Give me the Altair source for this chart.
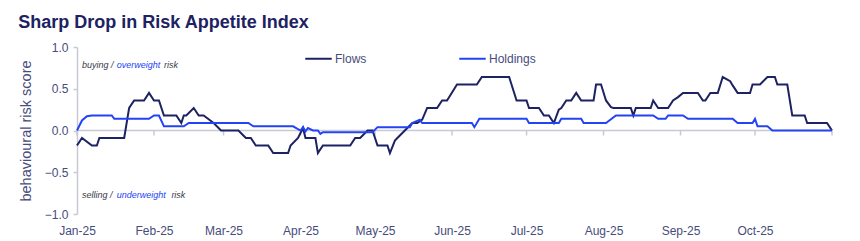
import altair as alt
import pandas as pd

chart_title = "Sharp Drop in Risk Appetite Index"
y_title = "behavioural risk score"
series_names = ["Flows", "Holdings"]
series_colors = ["#1d2262", "#2443f5"]

flows_dates = [
    "2025-01-01", "2025-01-03", "2025-01-07", "2025-01-09", "2025-01-10", "2025-01-20",
    "2025-01-22", "2025-01-24", "2025-01-28", "2025-01-30", "2025-02-01", "2025-02-03",
    "2025-02-05", "2025-02-10", "2025-02-12", "2025-02-13", "2025-02-14", "2025-02-17",
    "2025-02-19", "2025-02-21", "2025-02-25", "2025-02-28", "2025-03-07", "2025-03-10",
    "2025-03-12", "2025-03-14", "2025-03-19", "2025-03-21", "2025-03-27", "2025-03-28",
    "2025-03-31", "2025-04-02", "2025-04-03", "2025-04-05", "2025-04-07", "2025-04-08",
    "2025-04-10", "2025-04-21", "2025-04-23", "2025-04-25", "2025-04-28", "2025-04-30",
    "2025-05-02", "2025-05-06", "2025-05-07", "2025-05-09", "2025-05-10", "2025-05-13",
    "2025-05-16", "2025-05-18", "2025-05-20", "2025-05-22", "2025-05-26", "2025-05-28",
    "2025-05-30", "2025-06-03", "2025-06-11", "2025-06-13", "2025-06-24", "2025-06-27",
    "2025-07-01", "2025-07-02", "2025-07-06", "2025-07-08", "2025-07-10", "2025-07-12",
    "2025-07-14", "2025-07-15", "2025-07-17", "2025-07-19", "2025-07-21", "2025-07-23",
    "2025-07-28", "2025-07-29", "2025-07-31", "2025-08-02", "2025-08-04", "2025-08-05",
    "2025-08-12", "2025-08-13", "2025-08-14", "2025-08-20", "2025-08-21", "2025-08-23",
    "2025-08-27", "2025-08-29", "2025-08-31", "2025-09-02", "2025-09-08", "2025-09-10",
    "2025-09-11", "2025-09-13", "2025-09-16", "2025-09-18", "2025-09-21", "2025-09-22",
    "2025-09-24", "2025-09-29", "2025-09-30", "2025-10-03", "2025-10-06", "2025-10-09",
    "2025-10-10", "2025-10-14", "2025-10-16", "2025-10-21", "2025-10-22", "2025-10-30",
    "2025-11-01",
]
flows_values = [
    -0.18, -0.09, -0.18, -0.18, -0.09, -0.09,
    0.27, 0.36, 0.36, 0.45, 0.36, 0.36,
    0.18, 0.18, 0.09, 0.18, 0.18, 0.27,
    0.18, 0.18, 0.09, 0.0, 0.0, -0.09,
    -0.09, -0.18, -0.18, -0.27, -0.27, -0.18,
    -0.09, 0.03, -0.09, -0.09, -0.09, -0.27,
    -0.18, -0.18, -0.09, -0.09, 0.0, 0.0,
    -0.18, -0.18, -0.27, -0.12, -0.09, 0.0,
    0.09, 0.09, 0.13, 0.27, 0.27, 0.36,
    0.36, 0.55, 0.55, 0.64, 0.64, 0.36,
    0.36, 0.27, 0.27, 0.18, 0.18, 0.09,
    0.25, 0.27, 0.36, 0.36, 0.45, 0.36,
    0.36, 0.55, 0.55, 0.36, 0.28, 0.27,
    0.27, 0.18, 0.27, 0.27, 0.36, 0.27,
    0.27, 0.36, 0.40, 0.45, 0.45, 0.36,
    0.36, 0.45, 0.45, 0.64, 0.59, 0.54,
    0.45, 0.45, 0.55, 0.55, 0.64, 0.64,
    0.55, 0.55, 0.18, 0.18, 0.09, 0.09,
    0.0,
]

holdings_dates = [
    "2025-01-01", "2025-01-03", "2025-01-05", "2025-01-07", "2025-01-15", "2025-01-16",
    "2025-01-30", "2025-02-01", "2025-02-03", "2025-02-05", "2025-02-13", "2025-02-15",
    "2025-03-11", "2025-03-13", "2025-03-29", "2025-04-01", "2025-04-02", "2025-04-03",
    "2025-04-04", "2025-04-06", "2025-04-08", "2025-04-09", "2025-04-10", "2025-04-30",
    "2025-05-02", "2025-05-15", "2025-05-16", "2025-05-19", "2025-05-20", "2025-06-09",
    "2025-06-10", "2025-06-12", "2025-07-01", "2025-07-02", "2025-07-14", "2025-07-15",
    "2025-07-23", "2025-07-24", "2025-08-02", "2025-08-06", "2025-08-21", "2025-08-23",
    "2025-08-26", "2025-08-27", "2025-09-02", "2025-09-04", "2025-09-22", "2025-09-24",
    "2025-09-30", "2025-10-01", "2025-10-02", "2025-10-06", "2025-10-08", "2025-11-01",
]
holdings_values = [
    0.0, 0.12, 0.17, 0.18, 0.18, 0.14,
    0.14, 0.18, 0.18, 0.05, 0.05, 0.09,
    0.09, 0.05, 0.05, 0.0, 0.04, -0.01,
    0.03, 0.0, 0.0, -0.04, -0.02, -0.02,
    0.04, 0.04, 0.09, 0.13, 0.09, 0.09,
    0.04, 0.14, 0.14, 0.09, 0.09, 0.14,
    0.14, 0.09, 0.09, 0.18, 0.18, 0.14,
    0.14, 0.18, 0.18, 0.14, 0.14, 0.09,
    0.09, 0.14, 0.05, 0.05, 0.0, 0.0,
]

month_tick_dates = [
    (2025, 1), (2025, 2), (2025, 3), (2025, 4), (2025, 5), (2025, 6),
    (2025, 7), (2025, 8), (2025, 9), (2025, 10), (2025, 11),
]
y_ticks = [-1.0, -0.5, 0.0, 0.5, 1.0]

# annotation pieces: text, colour role, anchor date, value
ann_text = ["buying /", "overweight", "risk", "selling /", "underweight", "risk"]
ann_role = ["plain", "blue", "plain", "plain", "blue", "plain"]
ann_dates = ["2025-01-03", "2025-01-17", "2025-02-05", "2025-01-03", "2025-01-17", "2025-02-08"]
ann_values = [0.79, 0.79, 0.79, -0.77, -0.77, -0.77]

NAVY = "#1d2262"
AXIS_GREY = "#c8c9d4"
LABEL_COL = "#474c7c"
FONT = "Liberation Sans"

df = pd.concat([
    pd.DataFrame({"date": flows_dates, "value": flows_values, "series": series_names[0]}),
    pd.DataFrame({"date": holdings_dates, "value": holdings_values, "series": series_names[1]}),
])
months_df = pd.DataFrame({
    "date": [f"{y}-{m:02d}-01" for y, m in month_tick_dates]
})
ann_df = pd.DataFrame({"text": ann_text, "role": ann_role, "date": ann_dates, "value": ann_values})

dt = [alt.DateTime(year=y, month=m, date=1, utc=True) for y, m in month_tick_dates]

x_scale = alt.Scale(type="utc", domain=[dt[0], dt[-1]], nice=False)
x_enc = alt.X(
    "date:T",
    scale=x_scale,
    axis=alt.Axis(
        values=dt[:-1], labelExpr="utcFormat(datum.value, '%b-%y')", domain=False, ticks=False,
        grid=False, title=None, labelPadding=11, labelFontSize=12, labelColor=LABEL_COL,
        labelFont=FONT, labelFlush=False,
    ),
)
y_scale = alt.Scale(domain=[-1, 1], nice=False)
y_enc = alt.Y(
    "value:Q",
    scale=y_scale,
    axis=alt.Axis(
        values=y_ticks, format=".1f", grid=False, domain=True, domainColor=AXIS_GREY,
        domainWidth=1.5, ticks=True, tickSize=4, tickColor=AXIS_GREY, tickWidth=1.5,
        labelPadding=5, labelFontSize=12, labelColor=LABEL_COL, labelFont=FONT,
        title=y_title, titleFontSize=14.5, titleFontWeight="normal", titleColor=LABEL_COL,
        titleFont=FONT, titlePadding=11,
    ),
)

zero_line = alt.Chart(pd.DataFrame({"value": [0.0]})).mark_rule(
    color=AXIS_GREY, strokeWidth=1.5
).encode(y=alt.Y("value:Q", scale=y_scale))

month_ticks = alt.Chart(months_df).mark_rule(
    color=AXIS_GREY, strokeWidth=1.5, y2Offset=5
).encode(x=x_enc, y=alt.datum(0.0), y2=alt.datum(0.0))

lines = alt.Chart(df).mark_line(strokeWidth=2).encode(
    x=x_enc,
    y=y_enc,
    color=alt.Color(
        "series:N",
        scale=alt.Scale(domain=series_names, range=series_colors),
        sort=series_names,
        legend=alt.Legend(
            title=None, orient="none", legendX=227, legendY=-3, direction="horizontal",
            symbolType="stroke", symbolSize=700, symbolStrokeWidth=2, columnPadding=88,
            labelFontSize=12, labelColor=LABEL_COL, labelFont=FONT, labelOffset=2,
        ),
    ),
    order=alt.Order("date:T"),
)

ann = alt.Chart(ann_df).mark_text(
    align="left", baseline="middle", fontSize=9, fontStyle="italic", font=FONT
).encode(
    x=x_enc,
    y=alt.Y("value:Q", scale=y_scale),
    text="text:N",
    color=alt.Color("role:N", scale=alt.Scale(domain=["plain", "blue"], range=["#3a3a4a", "#2443f5"]), legend=None),
)

chart = alt.layer(zero_line, month_ticks, ann, lines).resolve_scale(color="independent").properties(
    width=755,
    height=167,
    autosize=alt.AutoSizeParams(type="none"),
    padding={"left": 77, "top": 47, "right": 28, "bottom": 27},
    title=alt.TitleParams(
        chart_title, anchor="start", fontSize=18, fontWeight="bold", color=NAVY,
        font=FONT, offset=9,
    ),
).configure_view(stroke=None)

chart.save("out.html", embed_options={"renderer": "svg", "actions": False})
